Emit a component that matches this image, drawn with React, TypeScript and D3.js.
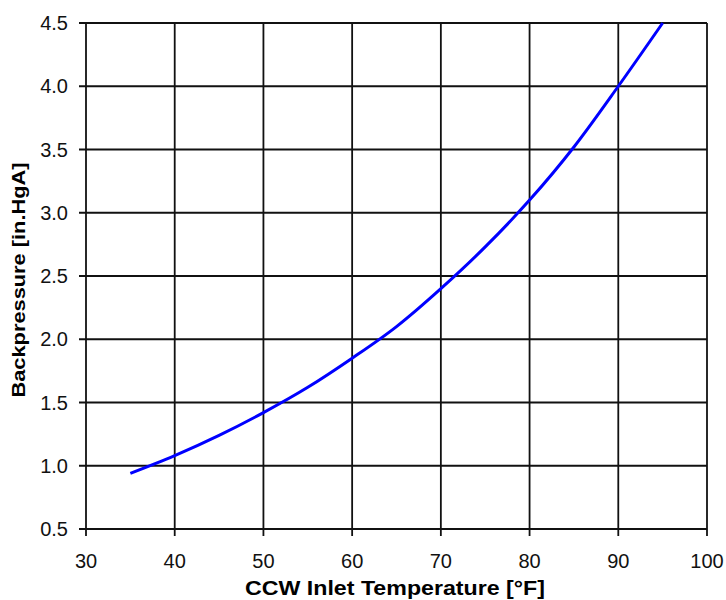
import React from "react";
import * as d3 from "d3";

// Condenser backpressure vs. circulating cooling water inlet temperature
const temperatures = [35, 40, 45, 50, 55, 60, 65, 70, 75, 80, 85, 90, 95];
const backpressures = [0.94, 1.08, 1.24, 1.42, 1.62, 1.85, 2.1, 2.4, 2.73, 3.1, 3.52, 4.0, 4.5];
const xTicks = [30, 40, 50, 60, 70, 80, 90, 100];
const yTicks = [0.5, 1.0, 1.5, 2.0, 2.5, 3.0, 3.5, 4.0, 4.5];

const W = 726;
const H = 600;
const M = { left: 86, right: 19, top: 23, bottom: 71 };

export default function App() {
  const x = d3.scaleLinear().domain([30, 100]).range([M.left, W - M.right]);
  const y = d3.scaleLinear().domain([0.5, 4.5]).range([H - M.bottom, M.top]);
  const pts = temperatures.map((t, i) => [t, backpressures[i]] as [number, number]);
  const line = d3
    .line<[number, number]>()
    .x((d) => x(d[0]))
    .y((d) => y(d[1]))
    .curve(d3.curveMonotoneX);

  const font = "'Liberation Sans', Arial, sans-serif";
  const x0 = x(30), x1 = x(100), y0 = y(0.5), y1 = y(4.5);

  return (
    <svg width={W} height={H} style={{ position: "absolute", left: 0, top: 0 }}>
      <rect width={W} height={H} fill="#fff" />
      {xTicks.map((t) => (
        <g key={"x" + t}>
          <line x1={x(t)} x2={x(t)} y1={y1} y2={y0 + 7} stroke="#111" strokeWidth={1.8} />
          <text x={x(t)} y={568} textAnchor="middle" fontFamily={font} fontSize={20} fill="#111">
            {t}
          </text>
        </g>
      ))}
      {yTicks.map((v) => (
        <g key={"y" + v}>
          <line x1={x0 - 7} x2={x1} y1={y(v)} y2={y(v)} stroke="#111" strokeWidth={1.8} />
          <text x={68} y={y(v) + 7} textAnchor="end" fontFamily={font} fontSize={20} fill="#111">
            {v.toFixed(1)}
          </text>
        </g>
      ))}
      <path d={line(pts) ?? ""} fill="none" stroke="#0000FF" strokeWidth={3} />
      <text
        x={395}
        y={595}
        textAnchor="middle"
        fontFamily={font}
        fontSize={20}
        fontWeight="bold"
        fill="#000"
        textLength={300}
        lengthAdjust="spacingAndGlyphs"
      >
        CCW Inlet Temperature [°F]
      </text>
      <text
        transform={`translate(25, 280) rotate(-90)`}
        textAnchor="middle"
        fontFamily={font}
        fontSize={18}
        fontWeight="bold"
        fill="#000"
        textLength={235}
        lengthAdjust="spacingAndGlyphs"
      >
        Backpressure [in.HgA]
      </text>
    </svg>
  );
}
